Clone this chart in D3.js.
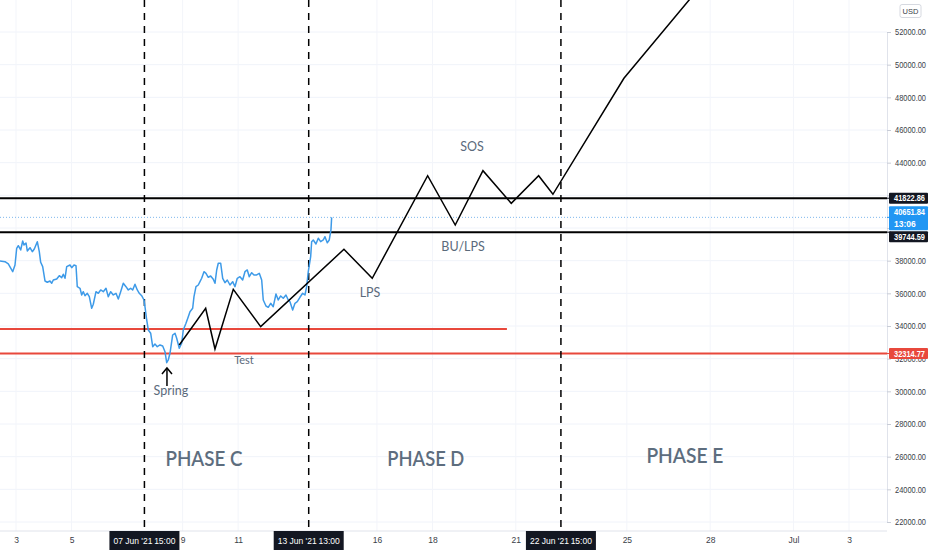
<!DOCTYPE html>
<html><head><meta charset="utf-8">
<script src="https://cdn.jsdelivr.net/npm/d3@7"></script>
<style>body{margin:0;background:#fff;overflow:hidden} svg{display:block}</style>
</head><body><svg id="c" width="932" height="550"></svg>
<script>
// ---------- DATA ----------
const yTickValues = [22000,24000,26000,28000,30000,32000,34000,36000,38000,40000,42000,44000,46000,48000,50000,52000];
const yTicksCovered = [40000,42000]; // hidden behind the price labels
const xTickDates  = ["2021-06-03","2021-06-05","2021-06-09","2021-06-11","2021-06-16","2021-06-18","2021-06-21","2021-06-25","2021-06-28","2021-07-01","2021-07-03"];
const xTickLabels = ["3","5","9","11","16","18","21","25","28","Jul","3"];

// BTCUSD price (day offset from 3 Jun 2021 00:00 UTC, price)
const priceDays = [-0.576,-0.396,-0.277,-0.119,-0.036,0.025,0.083,0.169,0.241,0.288,0.360,0.407,0.504,0.587,0.659,0.767,0.839,0.889,0.961,1.044,1.127,1.224,1.286,1.343,1.466,1.559,1.646,1.703,1.765,1.826,1.945,2.006,2.089,2.161,2.207,2.305,2.366,2.424,2.485,2.568,2.640,2.726,2.784,2.881,2.964,3.050,3.144,3.241,3.324,3.410,3.504,3.601,3.684,3.770,3.864,3.961,4.044,4.130,4.202,4.285,4.368,4.440,4.526,4.609,4.645,4.707,4.764,4.851,4.923,5.005,5.088,5.186,5.283,5.366,5.427,5.484,5.545,5.643,5.726,5.787,5.881,5.967,6.024,6.122,6.205,6.266,6.363,6.410,6.482,6.565,6.626,6.687,6.770,6.842,6.925,7.011,7.105,7.166,7.228,7.285,7.372,7.444,7.526,7.609,7.706,7.803,7.886,7.969,8.066,8.163,8.246,8.329,8.401,8.488,8.571,8.668,8.762,8.848,8.905,9.003,9.085,9.172,9.265,9.363,9.445,9.532,9.625,9.723,9.805,9.867,9.964,10.047,10.130,10.227,10.324,10.407,10.468,10.526,10.612,10.648,10.706,10.803,10.886,10.972,11.066,11.127,11.210,11.282,11.343,11.368];
const priceValues = [37981,37938,37797,37326,37736,38758,38917,38654,39205,38960,39083,38593,38795,38550,38715,39162,38550,37901,37632,36756,36677,36756,36615,36817,36879,37081,36958,37167,36921,37632,37736,37570,37736,37693,36407,36309,35899,36101,35856,36003,35795,35085,35330,36101,36003,36205,36101,36309,35795,36101,35899,36003,35654,36101,36615,36407,36205,36309,36205,36554,36205,36003,35856,35593,35183,34369,33756,33554,32734,32899,32734,32838,32777,32428,31755,31920,32330,33450,33554,33248,32636,32942,33756,34167,34571,34877,35085,35795,36407,36511,36713,36921,37326,37227,36983,37062,36860,36615,37430,37840,37840,36921,36652,36817,36511,36713,36407,36921,37019,36817,37326,37430,37019,37264,37123,37123,37227,36817,35593,35226,35146,35391,35183,35960,35593,35838,35697,35899,35593,35489,34981,35391,35489,35758,36003,35899,36407,37326,38244,39162,39266,39021,39370,39162,39266,39468,39101,39266,39878,40652];

// Projected Wyckoff path (day offset, price)
const pathDays   = [5.880,6.831,7.166,7.825,8.812,11.811,12.830,14.825,15.819,16.817,17.836,18.822,19.337,21.894,25.351];
const pathValues = [32838,35085,32593,36248,33959,38697,36921,43203,40184,43509,41513,43203,42064,49165,56224];

const resistanceLevels = [41822.86, 39744.59];
const supportLevel = 32314.77;
const innerSupport = 33818;
const innerSupportEndDay = 17.68;
const lastPrice = 40651.84;
const lastPriceCountdown = "13:06";

const markerDates  = ["2021-06-07T15:00:00Z","2021-06-13T13:00:00Z","2021-06-22T15:00:00Z"];
const markerDayTxt = ["07 Jun '21","13 Jun '21","22 Jun '21"];
const markerTimeTxt= ["15:00","13:00","15:00"];

const noteTexts  = ["Spring","Test","LPS","BU/LPS","SOS"];
const noteDays   = [5.58, 8.21, 12.75, 16.10, 16.42];
const noteValues = [30022, 31920, 36022, 38838, 44960];

const phaseTexts  = ["PHASE C","PHASE D","PHASE E"];
const phaseDays   = [6.77, 14.76, 24.09];
const phaseValues = [25920, 25920, 26104];

const springArrowDay = 5.437, springArrowFrom = 30328, springArrowTo = 31430;

// ---------- CHART ----------
const W = 932, H = 550, plotR = 887, plotB = 531;
const base = Date.UTC(2021,5,3);
const dayToDate = d => new Date(base + d*864e5);
const svg = d3.select('#c');

const x = d3.scaleUtc().domain([new Date(Date.UTC(2021,5,3)), new Date(Date.UTC(2021,6,3))]).range([16,849]);
const y = d3.scaleLinear().domain([22000,52000]).range([522,32]);

svg.append('defs').append('clipPath').attr('id','clip')
  .append('rect').attr('x',0).attr('y',0).attr('width',plotR).attr('height',plotB);

// grid
const grid = svg.append('g');
grid.selectAll('.hg').data(yTickValues).join('line')
  .attr('x1',0).attr('x2',plotR).attr('y1',d=>y(d)).attr('y2',d=>y(d))
  .attr('stroke','#f0f3fa').attr('stroke-width',1);
grid.selectAll('.vg').data(xTickDates).join('line')
  .attr('x1',d=>x(new Date(d))).attr('x2',d=>x(new Date(d))).attr('y1',0).attr('y2',plotB)
  .attr('stroke','#f3f5fa').attr('stroke-width',1);

const plot = svg.append('g').attr('clip-path','url(#clip)');

// last price dotted line
plot.append('line').attr('x1',0).attr('x2',plotR).attr('y1',y(lastPrice)).attr('y2',y(lastPrice))
  .attr('stroke','#7fb8ec').attr('stroke-width',1).attr('stroke-dasharray','1,2');

// horizontal levels
plot.selectAll('.res').data(resistanceLevels).join('line')
  .attr('x1',0).attr('x2',plotR).attr('y1',d=>y(d)).attr('y2',d=>y(d))
  .attr('stroke','#000').attr('stroke-width',2);
plot.append('line').attr('x1',0).attr('x2',plotR).attr('y1',y(supportLevel)).attr('y2',y(supportLevel))
  .attr('stroke','#e8483c').attr('stroke-width',2);
plot.append('line').attr('x1',0).attr('x2',x(dayToDate(innerSupportEndDay))).attr('y1',y(innerSupport)).attr('y2',y(innerSupport))
  .attr('stroke','#e8483c').attr('stroke-width',2);

// vertical markers
plot.selectAll('.mk').data(markerDates).join('line')
  .attr('x1',d=>x(new Date(d))).attr('x2',d=>x(new Date(d))).attr('y1',0).attr('y2',plotB)
  .attr('stroke','#000').attr('stroke-width',1.5).attr('stroke-dasharray','7,6');

// price line
const priceData = priceDays.map((d,i)=>[dayToDate(d), priceValues[i]]);
plot.append('path').datum(priceData)
  .attr('d', d3.line().x(d=>x(d[0])).y(d=>y(d[1])))
  .attr('fill','none').attr('stroke','#3d9ae8').attr('stroke-width',1.5).attr('stroke-linejoin','round');

// projection path
const projData = pathDays.map((d,i)=>[dayToDate(d), pathValues[i]]);
plot.append('path').datum(projData)
  .attr('d', d3.line().x(d=>x(d[0])).y(d=>y(d[1])))
  .attr('fill','none').attr('stroke','#000').attr('stroke-width',1.5);

// spring arrow
const ax = x(dayToDate(springArrowDay)), ay0 = y(springArrowFrom), ay1 = y(springArrowTo);
plot.append('line').attr('x1',ax).attr('x2',ax).attr('y1',ay0).attr('y2',ay1).attr('stroke','#000').attr('stroke-width',1.5);
plot.append('path').attr('d',`M${ax-5},${ay1+6}L${ax},${ay1}L${ax+5},${ay1+6}`).attr('fill','none').attr('stroke','#000').attr('stroke-width',1.5);

// annotations
plot.selectAll('.note').data(noteTexts).join('text')
  .attr('x',(d,i)=>x(dayToDate(noteDays[i]))).attr('y',(d,i)=>y(noteValues[i]))
  .attr('text-anchor','middle').attr('dominant-baseline','central')
  .attr('font-family','Lato, "Open Sans", sans-serif').attr('font-size',(d,i)=> i===1?11:12.5)
  .attr('fill','#5b6a7b').text(d=>d);

plot.selectAll('.phase').data(phaseTexts).join('text')
  .attr('x',(d,i)=>x(dayToDate(phaseDays[i]))).attr('y',(d,i)=>y(phaseValues[i]))
  .attr('text-anchor','middle').attr('dominant-baseline','central')
  .attr('font-family','Lato, "Open Sans", sans-serif').attr('font-size',21).attr('font-weight',600)
  .attr('textLength',77).attr('lengthAdjust','spacingAndGlyphs')
  .attr('fill','#5d6d7e').text(d=>d);

// axes
const yAxis = svg.append('g').attr('transform',`translate(${plotR},0)`)
  .call(d3.axisRight(y).tickValues(yTickValues).tickFormat(d3.format('.2f')).tickSize(4).tickPadding(4));
yAxis.select('.domain').attr('stroke','#e0e3eb');
yAxis.selectAll('.tick line').attr('stroke','#c8ccd6');
yAxis.selectAll('text').attr('font-family','"Liberation Sans", Arial, sans-serif').attr('font-size',8.5)
  .attr('fill','#3a3e48').attr('textLength',31).attr('lengthAdjust','spacingAndGlyphs');
yAxis.selectAll('.tick').filter(d=>yTicksCovered.includes(d)).select('text').remove();

const xAxis = svg.append('g').attr('transform',`translate(0,${plotB})`)
  .call(d3.axisBottom(x).tickValues(xTickDates.map(d=>new Date(d))).tickFormat((d,i)=>xTickLabels[i]).tickSize(0).tickPadding(6));
xAxis.select('.domain').attr('stroke','#e0e3eb').attr('d',`M0,0H${plotR}`);
xAxis.selectAll('text').attr('font-family','"Liberation Sans", Arial, sans-serif').attr('font-size',8.5).attr('fill','#3a3e48');

// marker date boxes
markerDates.forEach((d,i)=>{
  const cx = x(new Date(d));
  const g = svg.append('g');
  g.append('rect').attr('x',cx-35).attr('y',plotB).attr('width',70).attr('height',19).attr('fill','#131722');
  g.append('text').attr('x',cx-31).attr('y',plotB+12.5).attr('font-family','"Liberation Sans", Arial, sans-serif')
    .attr('font-size',8.5).attr('fill','#fff').text(markerDayTxt[i]);
  g.append('text').attr('x',cx+31).attr('y',plotB+12.5).attr('text-anchor','end').attr('font-family','"Liberation Sans", Arial, sans-serif')
    .attr('font-size',8.5).attr('fill','#fff').text(markerTimeTxt[i]);
});

// price labels on the right axis
function boxLabel(val, cy, fill, lines){
  const h = lines.length===1 ? 11 : 24;
  const g = svg.append('g');
  g.append('line').attr('x1',plotR).attr('x2',plotR+4).attr('y1',y(val)).attr('y2',y(val)).attr('stroke',fill);
  g.append('rect').attr('x',plotR+2).attr('y',cy-h/2).attr('width',39).attr('height',h).attr('fill',fill).attr('rx',1);
  lines.forEach((t,k)=>{
    g.append('text').attr('x',plotR+7).attr('y',cy-h/2+8.7+k*11.5)
      .attr('font-family','"Liberation Sans", Arial, sans-serif').attr('font-size',8.5)
      .attr('fill','#fff').attr('font-weight',600).text(t)
      .attr('textLength', t.length>6?31:null).attr('lengthAdjust','spacingAndGlyphs');
  });
  return cy + h/2;
}
const fmt = d3.format('.2f');
boxLabel(resistanceLevels[0], y(resistanceLevels[0]), '#131722', [fmt(resistanceLevels[0])]);
const blueBottom = boxLabel(lastPrice, y(lastPrice)+1, '#2196f3', [fmt(lastPrice), lastPriceCountdown]);
boxLabel(resistanceLevels[1], Math.max(y(resistanceLevels[1]), blueBottom+6.5), '#131722', [fmt(resistanceLevels[1])]);
boxLabel(supportLevel, y(supportLevel), '#e8483c', [fmt(supportLevel)]);

// USD badge
svg.append('rect').attr('x',900).attr('y',4.5).attr('width',21).attr('height',13).attr('rx',2)
  .attr('fill','#fff').attr('stroke','#d6d9e0');
svg.append('text').attr('x',910.5).attr('y',14).attr('text-anchor','middle')
  .attr('font-family','"Liberation Sans", Arial, sans-serif').attr('font-size',7.5).attr('fill','#3a3e48').text('USD');
</script>
</body></html>
